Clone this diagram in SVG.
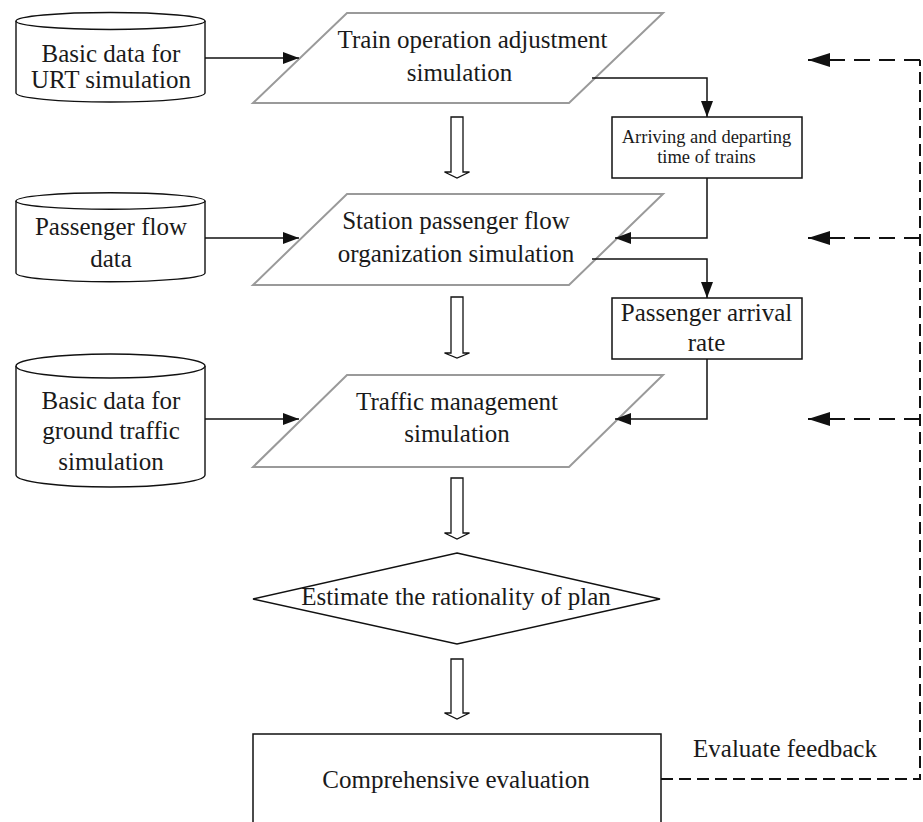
<svg xmlns="http://www.w3.org/2000/svg" width="923" height="822" viewBox="0 0 923 822">
<style>
text{font-family:"Liberation Serif","Times New Roman",serif;font-size:25px;fill:#1a1a1a;text-anchor:middle}
.small{font-size:18.5px}
.cyl{fill:#fff;stroke:#111;stroke-width:1.4}
.para{fill:#fff;stroke:#9a9a9a;stroke-width:2}
.box{fill:#fff;stroke:#111;stroke-width:1.5}
.hollow{fill:#fff;stroke:#111;stroke-width:1.3}
.conn{fill:none;stroke:#111;stroke-width:1.5}
.dash{fill:none;stroke:#111;stroke-width:2;stroke-dasharray:12 6}
.dasharr{fill:none;stroke:#111;stroke-width:2;stroke-dasharray:16 9}
</style>
<defs>
<marker id="arr" markerUnits="userSpaceOnUse" markerWidth="16" markerHeight="12" refX="16" refY="6" orient="auto">
<path d="M0,0 L16,6 L0,12 Z" fill="#111"/>
</marker>
<marker id="arrD" markerUnits="userSpaceOnUse" markerWidth="22" markerHeight="14" refX="22" refY="7" orient="auto">
<path d="M0,0 L22,7 L0,14 Z" fill="#111"/>
</marker>
</defs>
<rect width="923" height="822" fill="#fff"/>

<g id="cyl1">
<path class="cyl" d="M16,21 L16,93 A94.5,9 0 0 0 205,93 L205,21"/>
<ellipse class="cyl" cx="110.5" cy="21" rx="94.5" ry="8.5"/>
<text x="111" y="62">Basic data for</text>
<text x="111" y="88">URT simulation</text>
</g>
<g id="cyl2">
<path class="cyl" d="M16,201 L16,273 A94.5,8.7 0 0 0 205,273 L205,201"/>
<ellipse class="cyl" cx="110.5" cy="201" rx="94.5" ry="8.3"/>
<text x="111" y="235">Passenger flow</text>
<text x="111" y="266.5">data</text>
</g>
<g id="cyl3">
<path class="cyl" d="M16,366 L16,475 A94.5,12 0 0 0 205,475 L205,366"/>
<ellipse class="cyl" cx="110.5" cy="366" rx="94.5" ry="12"/>
<text x="111" y="409">Basic data for</text>
<text x="111" y="439">ground traffic</text>
<text x="111" y="470">simulation</text>
</g>

<g id="para1">
<polygon class="para" points="347,13 663,13 569,103 253,103"/>
<text x="472.5" y="47.5">Train operation adjustment</text>
<text x="459.5" y="81">simulation</text>
</g>
<g id="para2">
<polygon class="para" points="347,194 663,194 569,285 253,285"/>
<text x="456" y="229">Station passenger flow</text>
<text x="456" y="262">organization simulation</text>
</g>
<g id="para3">
<polygon class="para" points="347,375 663,375 569,467 253,467"/>
<text x="457" y="410">Traffic management</text>
<text x="457" y="442">simulation</text>
</g>

<g id="box1">
<rect class="box" x="612" y="117" width="190" height="61"/>
<text class="small" x="706.5" y="143">Arriving and departing</text>
<text class="small" x="706.5" y="163">time of trains</text>
</g>
<g id="box2">
<rect class="box" x="612" y="298" width="190" height="61"/>
<text x="706.5" y="321">Passenger arrival</text>
<text x="706.5" y="351">rate</text>
</g>

<g id="decision">
<polygon class="box" points="457,553 660,599 457,644 253,599"/>
<text x="456" y="605">Estimate the rationality of plan</text>
</g>

<g id="evaluation">
<rect class="box" x="253" y="734" width="408" height="110"/>
<text x="456" y="788">Comprehensive evaluation</text>
</g>

<g id="feedback-label">
<text x="785" y="757">Evaluate feedback</text>
</g>

<g id="connectors">
<path class="conn" d="M205,58 H299" marker-end="url(#arr)"/>
<path class="conn" d="M205,238 H299" marker-end="url(#arr)"/>
<path class="conn" d="M205,419 H299" marker-end="url(#arr)"/>
<path class="conn" d="M592,78 H707 V117" marker-end="url(#arr)"/>
<path class="conn" d="M707,178 V238 H615" marker-end="url(#arr)"/>
<path class="conn" d="M592,259 H707 V298" marker-end="url(#arr)"/>
<path class="conn" d="M707,359 V419 H615" marker-end="url(#arr)"/>
<polygon class="hollow" points="451,117 463,117 463,172 469.5,172 457,178 444.5,172 451,172"/>
<polygon class="hollow" points="451,297 463,297 463,353 469.5,353 457,358 444.5,353 451,353"/>
<polygon class="hollow" points="451,478 463,478 463,533 469.5,533 457,539 444.5,533 451,533"/>
<polygon class="hollow" points="451,659 463,659 463,713 469.5,713 457,719 444.5,713 451,713"/>
<path class="dash" d="M661,779 H920 V60"/>
<path class="dasharr" d="M920,60 H808" marker-end="url(#arrD)"/>
<path class="dasharr" d="M920,238 H808" marker-end="url(#arrD)"/>
<path class="dasharr" d="M920,419 H808" marker-end="url(#arrD)"/>
</g>
</svg>
